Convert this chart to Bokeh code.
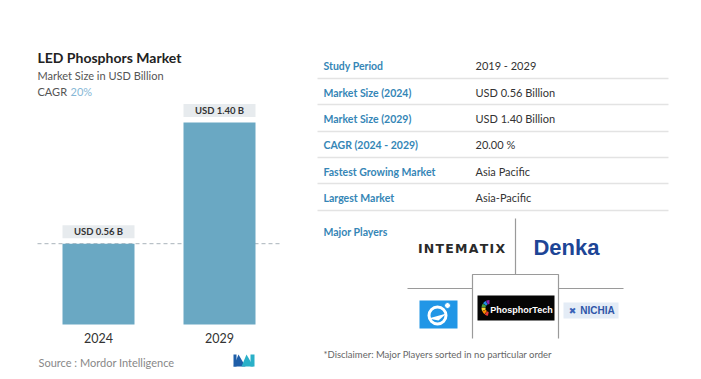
from bokeh.plotting import figure
from bokeh.models import FactorRange, Range1d
from bokeh.layouts import row
from bokeh.core.properties import value
from bokeh.embed import file_html
from bokeh.resources import INLINE
import numpy as np

# ---------------- data ----------------
years = ["2024", "2029"]
market_size = [0.56, 1.40]
bar_labels = ["USD 0.56 B", "USD 1.40 B"]
title = "LED Phosphors Market"
subtitle = "Market Size in USD Billion"
cagr_text = "20%"
source_text = "Source :  Mordor Intelligence"

table_keys = ["Study Period", "Market Size (2024)", "Market Size (2029)",
              "CAGR (2024 - 2029)", "Fastest Growing Market", "Largest Market"]
table_vals = ["2019 - 2029", "USD 0.56 Billion", "USD 1.40 Billion",
              "20.00 %", "Asia Pacific", "Asia-Pacific"]
players_title = "Major Players"
disclaimer = "*Disclaimer: Major Players sorted in no particular order"

FONT = value("Lato")

# ---------------- left: bar chart ----------------
LW, H = 317, 379
PX_PER_CAT = 121.0
PAD = (LW / PX_PER_CAT - 2) / 2
BASE_PY = 324.0
PX_PER_UNIT = 144.3

def X(px):
    return -PAD + px / PX_PER_CAT

def Y(py):
    return (BASE_PY - py) / PX_PER_UNIT

p1 = figure(width=LW, height=H, output_backend="svg", toolbar_location=None,
            x_range=FactorRange(factors=years, range_padding=PAD,
                                range_padding_units="absolute"),
            y_range=Range1d(Y(H), Y(0)),
            x_axis_location=None, y_axis_location=None, min_border=0)
p1.outline_line_color = None
p1.grid.visible = False
p1.background_fill_color = "white"
p1.border_fill_color = "white"

# dashed reference line at 2024 value (behind bars)
p1.segment(x0=[X(37)], x1=[X(281)], y0=[market_size[0]], y1=[market_size[0]],
           line_color="#a9b3ba", line_width=1, line_dash="4 3")

# bars
p1.vbar(x=years, top=market_size, bottom=0, width=72 / PX_PER_CAT,
        fill_color="#6aa8c3", line_color=None)

# value label boxes
lbl_y = [v + 12 / PX_PER_UNIT for v in market_size]
p1.rect(x=years, y=lbl_y, width=72, height=13, width_units="screen",
        height_units="screen", fill_color="#e7ebee", line_color=None)
p1.text(x=years, y=lbl_y, text=bar_labels, text_font=FONT, text_font_size="9.5px",
        text_color="#333333", text_align="center", text_baseline="middle",
        text_font_style="bold")

# year tick labels
p1.text(x=years, y=[Y(337)] * 2, text=years, text_font=FONT, text_font_size="12.5px",
        text_color="#333333", text_align="center", text_baseline="middle")

# titles
p1.text(x=[X(37)], y=[Y(57)], text=[title], text_font=FONT, text_font_size="14px",
        text_font_style="bold", text_color="#222222", text_baseline="middle")
p1.text(x=[X(37)], y=[Y(75)], text=[subtitle], text_font=FONT, text_font_size="11px",
        text_color="#555555", text_baseline="middle")
p1.text(x=[X(37)], y=[Y(91)], text=["CAGR"], text_font=FONT, text_font_size="11px",
        text_color="#555555", text_baseline="middle")
p1.text(x=[X(70)], y=[Y(91)], text=[cagr_text], text_font=FONT, text_font_size="11px",
        text_color="#86b7d6", text_baseline="middle")

# source
p1.text(x=[X(38)], y=[Y(362)], text=[source_text], text_font=FONT, text_font_size="11px",
        text_color="#888888", text_baseline="middle")

# mordor logo (decorative)
p1.patches(xs=[[X(233), X(238), X(245), X(240)], [X(241), X(246), X(253), X(248)]],
           ys=[[Y(366), Y(354), Y(366), Y(366)], [Y(366), Y(354), Y(366), Y(366)]],
           fill_color=["#1f5ea8", "#2ab0c8"], line_color=None)
p1.patches(xs=[[X(233), X(236), X(236), X(233)], [X(250), X(254), X(254), X(250)]],
           ys=[[Y(354), Y(354), Y(366), Y(366)], [Y(354), Y(354), Y(366), Y(366)]],
           fill_color=["#1f5ea8", "#2ab0c8"], line_color=None)

# ---------------- right: table + players ----------------
RW = 701 - LW
p2 = figure(width=RW, height=H, output_backend="svg", toolbar_location=None,
            x_range=Range1d(LW, 701), y_range=Range1d(H, 0),
            x_axis_location=None, y_axis_location=None, min_border=0)
p2.outline_line_color = None
p2.grid.visible = False
p2.background_fill_color = "white"
p2.border_fill_color = "white"

row_y = [65, 92, 118, 144, 171, 197]
sep_y = [78, 104, 131, 157, 183, 210]
p2.text(x=[323] * 6, y=row_y, text=table_keys, text_font=FONT, text_font_size="10.5px",
        text_color="#3586b6", text_baseline="middle", text_font_style="bold")
p2.text(x=[475] * 6, y=row_y, text=table_vals, text_font=FONT, text_font_size="11px",
        text_color="#333333", text_baseline="middle")
p2.segment(x0=[314] * 6, x1=[668] * 6, y0=sep_y, y1=sep_y,
           line_color="#e3e3e3", line_width=1.5)

p2.text(x=[323], y=[231], text=[players_title], text_font=FONT, text_font_size="10.5px",
        text_color="#3586b6", text_baseline="middle", text_font_style="bold")

# grid lines of players block
p2.segment(x0=[515, 407, 558], x1=[515, 472, 623], y0=[218, 288, 288], y1=[274, 288, 288],
           line_color="#9a9a9a", line_width=1.2)
p2.multi_line(xs=[[472, 472, 558, 558]], ys=[[338, 274, 274, 338]],
              line_color="#9a9a9a", line_width=1.2)

# INTEMATIX
p2.text(x=[461], y=[248], text=["I N T E M A T I X".replace(" ", "\u200a")],
        text_font=value("DejaVu Sans"), text_font_size="12.5px", text_font_style="bold",
        text_color="#2a2a2a", text_align="center", text_baseline="middle")
# Denka
p2.text(x=[566], y=[247], text=["Denka"], text_font=value("Liberation Sans"),
        text_font_size="22px", text_font_style="bold", text_color="#1d4596",
        text_align="center", text_baseline="middle")

# blue square logo
p2.quad(left=[419], right=[457], top=[300], bottom=[328], fill_color="#2196e6",
        line_color=None)
p2.circle(x=[437], y=[315], radius=8.5, fill_color=None, line_color="white",
          line_width=3)
p2.circle(x=[447], y=[305], radius=3, fill_color="white", line_color="#2196e6",
          line_width=1)
p2.patches(xs=[[428, 446, 438]], ys=[[318, 313, 320]], fill_color="white",
           line_color=None)

# PhosphorTech logo
p2.quad(left=[477], right=[554], top=[295], bottom=[320], fill_color="#050505",
        line_color=None)
rainbow = ["#8e24aa", "#1e88e5", "#43a047", "#fdd835", "#fb8c00", "#e53935"]
for i, c in enumerate(rainbow):
    a0 = np.pi * 0.5 + i * 0.5
    p2.annular_wedge(x=[489], y=[307.5], inner_radius=4, outer_radius=8,
                     start_angle=a0, end_angle=a0 + 0.45, fill_color=c, line_color=None)
p2.text(x=[521], y=[309], text=["PhosphorTech"], text_font=value("Liberation Sans"),
        text_font_size="9px", text_font_style="bold", text_color="white",
        text_align="center", text_baseline="middle")

# NICHIA logo
p2.quad(left=[563], right=[618], top=[302], bottom=[318], fill_color="#e4ecf6",
        line_color=None)
p2.text(x=[572], y=[310], text=["\u2716"], text_font=value("DejaVu Sans"),
        text_font_size="9px", text_color="#3a63b8", text_align="center",
        text_baseline="middle")
p2.text(x=[597], y=[310], text=["NICHIA"], text_font=value("Liberation Sans"),
        text_font_size="10px", text_font_style="bold", text_color="#2e55a8",
        text_align="center", text_baseline="middle")

p2.text(x=[323], y=[354], text=[disclaimer], text_font=FONT, text_font_size="9.5px",
        text_color="#666666", text_baseline="middle")

layout = row(p1, p2)
open("out.html", "w").write(file_html(layout, INLINE))
